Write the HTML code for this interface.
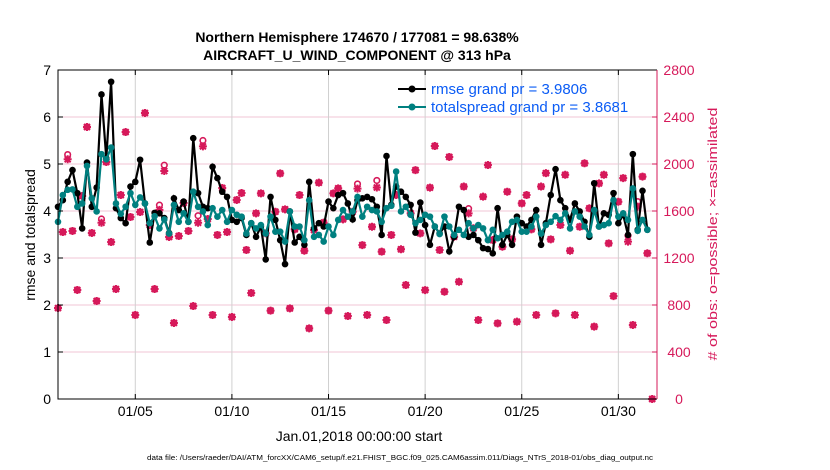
<!DOCTYPE html>
<html><head><meta charset="utf-8"><style>
body{margin:0;background:#fff;}
svg{display:block;font-family:"Liberation Sans",Arial,sans-serif;}
</style></head><body>
<svg id="chart" width="830" height="470" viewBox="0 0 830 470">
<text x="357" y="42" font-size="14" font-weight="bold" text-anchor="middle">Northern Hemisphere 174670 / 177081 = 98.638%</text>
<text x="357" y="60" font-size="14" font-weight="bold" text-anchor="middle">AIRCRAFT_U_WIND_COMPONENT @ 313 hPa</text>
<g id="grid"></g>
<g id="obs"></g>
<g id="series"></g>
<g id="axes"></g>
<text transform="translate(35,235) rotate(-90)" font-size="14" text-anchor="middle">rmse and totalspread</text>
<text transform="translate(717,234) rotate(-90)" font-size="13" text-anchor="middle" fill="#d6195a" textLength="253" lengthAdjust="spacingAndGlyphs"># of obs: o=possible; ×=assimilated</text>
<text x="359" y="441" font-size="14" text-anchor="middle">Jan.01,2018 00:00:00 start</text>
<text x="400" y="460" font-size="7" text-anchor="middle" textLength="506" lengthAdjust="spacingAndGlyphs">data file: /Users/raeder/DAI/ATM_forcXX/CAM6_setup/f.e21.FHIST_BGC.f09_025.CAM6assim.011/Diags_NTrS_2018-01/obs_diag_output.nc</text>
<g>
<g>
<line x1="398" y1="89" x2="426" y2="89" stroke="#000" stroke-width="2"/><circle cx="412" cy="89" r="3.5" fill="#000"/>
<text x="431" y="94" font-size="15" fill="#0b5cf5">rmse grand pr = 3.9806</text></g>
<g>
<line x1="398" y1="107" x2="426" y2="107" stroke="#008080" stroke-width="2"/><circle cx="412" cy="107" r="3.5" fill="#008080"/>
<text x="431" y="112" font-size="15" fill="#0b5cf5">totalspread grand pr = 3.8681</text></g>
</g>
</svg>
<script>
const rmse=[4.09,4.23,4.62,4.87,4.38,3.63,5.03,4.09,4.50,6.48,5.12,6.75,4.06,3.85,3.74,4.52,4.62,5.09,4.16,3.33,3.96,3.95,3.85,3.53,4.27,4.02,4.20,3.77,5.55,4.38,4.09,4.06,4.94,4.70,4.41,4.30,3.81,3.77,3.85,3.49,3.74,
3.45,3.67,2.97,4.30,3.81,3.38,2.87,3.99,3.33,3.45,3.28,4.62,3.63,3.74,3.67,4.20,4.06,4.34,4.38,4.16,3.82,4.23,4.27,4.30,4.25,4.09,3.49,5.17,4.13,4.52,4.41,4.30,4.13,3.54,4.18,3.70,3.28,3.67,3.52,3.67,
3.14,3.45,4.09,4.02,3.45,3.49,3.38,3.21,3.19,3.10,4.06,3.28,3.49,3.28,3.88,3.74,3.67,3.81,4.02,3.28,3.74,4.34,4.89,4.23,4.06,3.81,4.16,3.99,3.77,3.45,4.59,3.67,3.95,3.92,4.38,3.74,3.92,3.49,5.21,3.60,4.43,3.60];
const spread=[3.77,4.34,4.45,4.46,4.09,4.16,4.96,4.27,3.99,5.21,5.10,5.35,4.16,3.94,4.09,4.38,4.13,4.29,4.16,3.74,3.89,3.63,3.82,3.52,4.13,3.77,3.95,3.77,4.41,4.09,3.99,3.70,4.06,3.88,4.02,3.77,4.02,3.92,3.88,3.52,3.74,
3.63,3.70,3.52,3.88,3.56,3.56,3.35,3.99,3.67,3.67,3.38,4.23,3.45,3.49,3.35,3.67,3.49,3.81,4.02,3.88,3.99,4.30,3.88,4.09,4.02,3.99,3.77,4.06,4.11,4.84,3.99,4.09,3.92,3.74,3.81,3.92,3.88,3.67,3.51,3.88,
3.67,3.49,3.60,3.49,3.74,3.63,3.70,3.63,3.38,3.60,3.42,3.49,3.56,3.77,3.81,3.56,3.56,3.67,3.88,3.52,3.70,3.77,3.89,3.81,3.95,3.63,3.99,3.88,3.67,3.49,4.02,3.67,3.70,3.74,4.23,3.88,3.95,3.81,4.48,3.58,3.81,3.60];
const obsPossible=[774,1421,2080,1430,928,1728,2315,1413,834,1532,2017,1336,936,1736,2272,1549,715,1591,2434,1481,936,1650,1990,1379,647,1387,1668,1430,791,1560,2200,1532,715,1396,1796,1421,698,1694,1753,1268,902,
1580,1750,1410,752,1594,1920,1614,771,1444,1736,1262,601,1438,1841,1501,752,1750,1793,1529,706,1594,1830,1310,715,1466,1860,1254,672,1396,1736,1274,970,1580,1948,1410,927,1799,2153,1268,913,
2060,1381,998,1808,1620,1453,672,1722,1991,1353,644,1296,1764,1359,658,1665,1736,1444,715,1808,1922,1359,729,1481,1908,1262,715,1466,2006,1623,616,1835,1908,1325,876,1679,1880,1390,630,1680,1893,1240,0];
const obsUsed=[774,1421,2040,1430,928,1728,2315,1413,834,1500,2017,1336,936,1736,2272,1549,715,1591,2434,1481,936,1610,1940,1379,647,1387,1668,1430,791,1500,2150,1532,715,1396,1796,1421,698,1694,1753,1268,902,
1580,1750,1410,752,1594,1920,1614,771,1444,1736,1262,601,1438,1841,1501,752,1750,1793,1529,706,1594,1790,1310,715,1466,1800,1254,672,1396,1736,1274,970,1580,1948,1410,927,1799,2153,1268,913,
2060,1381,998,1808,1580,1453,672,1722,1991,1353,644,1296,1764,1359,658,1665,1736,1444,715,1808,1922,1359,729,1481,1908,1262,715,1466,2006,1623,616,1835,1908,1325,876,1679,1880,1339,630,1637,1893,1240,0];
const leftTicks=[0,1,2,3,4,5,6,7];
const rightTicks=[0,400,800,1200,1600,2000,2400,2800];
const dateTicks=[4,9,14,19,24,29];
const dateLabels=["01/05","01/10","01/15","01/20","01/25","01/30"];

const X0=58,X1=657,Y0=399,Y1=70;
const xs=d=>X0+(d/31)*(X1-X0);
const yL=v=>Y0-(v/7)*(Y0-Y1);
const yR=n=>Y0-(n/2800)*(Y0-Y1);
const NS="http://www.w3.org/2000/svg";
function mk(tag,attrs,parent){const e=document.createElementNS(NS,tag);for(const k in attrs)e.setAttribute(k,attrs[k]);parent.appendChild(e);return e;}
const grid=document.getElementById('grid'),axes=document.getElementById('axes'),obs=document.getElementById('obs'),ser=document.getElementById('series');

rightTicks.forEach(t=>{const l=mk('line',{x1:X0,x2:X1,y1:yR(t),y2:yR(t),stroke:'#f2c6d6','stroke-width':1},grid);

});
dateTicks.forEach((d,i)=>{const l=mk('line',{x1:xs(d),x2:xs(d),y1:Y1,y2:Y0,stroke:'#d0d0d0','stroke-width':1},grid);


mk('line',{x1:xs(d),x2:xs(d),y1:Y0,y2:Y0-5,stroke:'#000'},axes);
mk('line',{x1:xs(d),x2:xs(d),y1:Y1,y2:Y1+5,stroke:'#000'},axes);
const t=mk('text',{x:xs(d),y:416,'font-size':14,'text-anchor':'middle'},axes);t.textContent=dateLabels[i];

});
leftTicks.forEach(v=>{mk('line',{x1:X0,x2:X0+5,y1:yL(v),y2:yL(v),stroke:'#000'},axes);
const t=mk('text',{x:51,y:yL(v)+5,'font-size':14,'text-anchor':'end'},axes);t.textContent=v;

});
rightTicks.forEach(v=>{mk('line',{x1:X1-5,x2:X1,y1:yR(v),y2:yR(v),stroke:'#d6195a'},axes);
const t=mk('text',{x:679,y:yR(v)+5,'font-size':14,fill:'#d6195a','text-anchor':'middle'},axes);t.textContent=v;

});
mk('path',{d:`M${X1},${Y1}H${X0}V${Y0}H${X1}`,fill:'none',stroke:'#000','stroke-width':1},axes);
mk('line',{x1:X1,x2:X1,y1:Y1,y2:Y0,stroke:'#d6195a','stroke-width':1},axes);

obsPossible.forEach((n,i)=>{const x=xs(i/4),y=yR(n);
const c=mk('circle',{cx:x,cy:y,r:2.8,fill:'none',stroke:'#d6195a','stroke-width':1.6},obs);

});
obsUsed.forEach((n,i)=>{const x=xs(i/4),y=yR(n);
const s=mk('path',{d:`M${x-4},${y}H${x+4}M${x},${y-4}V${y+4}M${x-3},${y-3}L${x+3},${y+3}M${x-3},${y+3}L${x+3},${y-3}`,stroke:'#d6195a','stroke-width':2},obs);

});

function drawSeries(vals,color,name){
const pts=vals.map((v,i)=>`${xs(i/4).toFixed(1)},${yL(v).toFixed(1)}`).join(' ');
const pl=mk('polyline',{points:pts,fill:'none',stroke:color,'stroke-width':2.2},ser);


vals.forEach((v,i)=>{const c=mk('circle',{cx:xs(i/4),cy:yL(v),r:3.3,fill:color},ser);

});}
drawSeries(rmse,'#000','rmse');
drawSeries(spread,'#008080','totalspread');
</script>
</body></html>
